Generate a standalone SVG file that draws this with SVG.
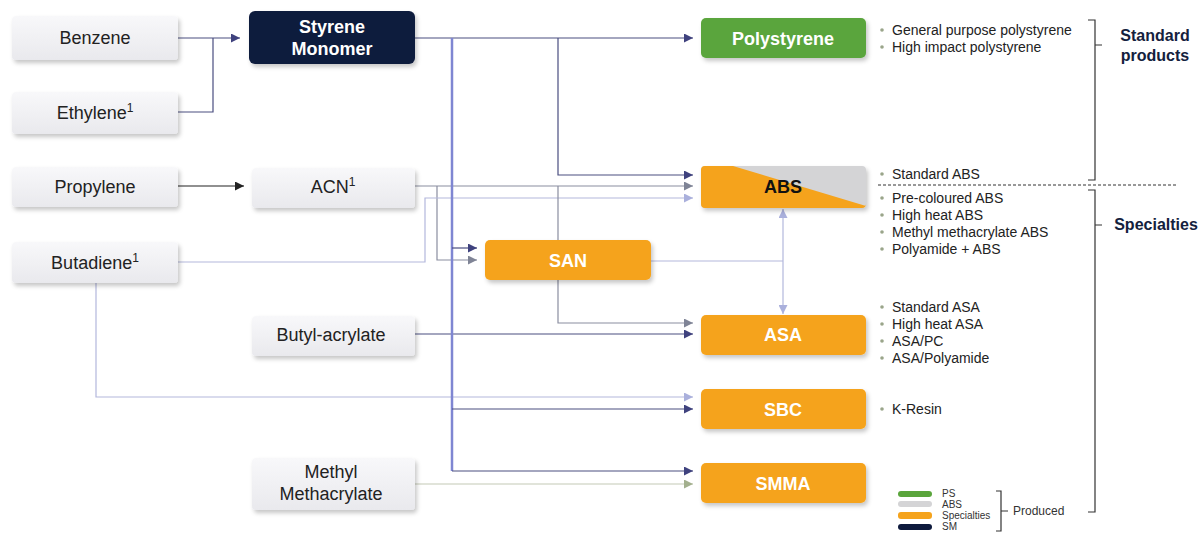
<svg xmlns="http://www.w3.org/2000/svg" width="1203" height="533" viewBox="0 0 1203 533">
<defs>
<linearGradient id="gLight" x1="0" y1="0" x2="0" y2="1"><stop offset="0" stop-color="#f8f8fa"/><stop offset="1" stop-color="#e9e9ed"/></linearGradient>
<filter id="sh" x="-10%" y="-20%" width="125%" height="150%"><feDropShadow dx="2" dy="3" stdDeviation="2" flood-color="#000" flood-opacity="0.22"/></filter>
<marker id="aNavy" viewBox="0 0 10 10" refX="10" refY="5" markerWidth="9" markerHeight="9" markerUnits="userSpaceOnUse" orient="auto"><path d="M0,0 L10,5 L0,10 z" fill="#3f427e"/></marker>
<marker id="aBlack" viewBox="0 0 10 10" refX="10" refY="5" markerWidth="9" markerHeight="9" markerUnits="userSpaceOnUse" orient="auto"><path d="M0,0 L10,5 L0,10 z" fill="#222"/></marker>
<marker id="aGrey" viewBox="0 0 10 10" refX="10" refY="5" markerWidth="9" markerHeight="9" markerUnits="userSpaceOnUse" orient="auto"><path d="M0,0 L10,5 L0,10 z" fill="#7f8496"/></marker>
<marker id="aLight" viewBox="0 0 10 10" refX="10" refY="5" markerWidth="9" markerHeight="9" markerUnits="userSpaceOnUse" orient="auto"><path d="M0,0 L10,5 L0,10 z" fill="#aab0dc"/></marker>
<marker id="aGreen" viewBox="0 0 10 10" refX="10" refY="5" markerWidth="9" markerHeight="9" markerUnits="userSpaceOnUse" orient="auto"><path d="M0,0 L10,5 L0,10 z" fill="#a3b08e"/></marker>
</defs>
<style>
.lt{fill:url(#gLight);filter:url(#sh)}
.nt{font-family:"Liberation Sans",Arial,sans-serif;font-size:18px;fill:#222;text-anchor:middle}
.bt{font-family:"Liberation Sans",Arial,sans-serif;font-size:18px;font-weight:bold;fill:#fff;text-anchor:middle}
.bx{filter:url(#sh)}
.li{font-family:"Liberation Sans",Arial,sans-serif;font-size:14px;fill:#222}
.dot{fill:#9aa58a}
.hd{font-family:"Liberation Sans",Arial,sans-serif;font-size:16px;font-weight:bold;fill:#14213d;text-anchor:middle}
.c{fill:none;stroke-width:1.2}
.nv{stroke:#4a4e80}
.gr{stroke:#8a8ea0}
.lg{stroke:#b3b7dc}
.br{fill:none;stroke:#333;stroke-width:1.2}
.lgd{font-family:"Liberation Sans",Arial,sans-serif;font-size:10px;fill:#333}
.lgp{font-family:"Liberation Sans",Arial,sans-serif;font-size:12px;fill:#333}
</style>
<rect width="1203" height="533" fill="#fff"/>

<g id="connectors">
<path class="c nv" d="M178,38 H240" marker-end="url(#aNavy)"/>
<path class="c nv" d="M178,112 H213 V38"/>
<path class="c nv" d="M415,38 H693" marker-end="url(#aNavy)"/>
<path class="c" stroke="#222" d="M178,186 H244" marker-end="url(#aBlack)"/>
<path class="c nv" d="M558,38 V175 H693" marker-end="url(#aNavy)"/>
<path class="c gr" d="M415,186 H693" marker-end="url(#aGrey)"/>
<path class="c gr" d="M437,186 V260 H477" marker-end="url(#aGrey)"/>
<path class="c lg" d="M178,262 H425 V198 H693" marker-end="url(#aLight)"/>
<path class="c gr" d="M558,186 V323 H693" marker-end="url(#aGrey)"/>
<path class="c nv" d="M415,334 H693" marker-end="url(#aNavy)"/>
<path class="c lg" d="M651,261 H783"/>
<path class="c lg" d="M783,261 V209" marker-end="url(#aLight)"/>
<path class="c lg" d="M783,261 V314" marker-end="url(#aLight)"/>
<path class="c lg" d="M96,283 V397 H693" marker-end="url(#aLight)"/>
<path class="c" stroke="#c4cab6" d="M415,484 H693" marker-end="url(#aGreen)"/>
<path fill="none" stroke="#7f86d2" stroke-width="2.5" d="M452,38 V471"/>
<path class="c nv" d="M452,248 H477" marker-end="url(#aNavy)"/>
<path class="c nv" d="M452,409 H693" marker-end="url(#aNavy)"/>
<path class="c nv" d="M452,471 H693" marker-end="url(#aNavy)"/>
</g>

<g id="benzene"><rect class="lt" x="12" y="16" width="166" height="44" rx="4"/><text class="nt" x="95" y="44">Benzene</text></g>
<g id="ethylene"><rect class="lt" x="12" y="92" width="166" height="42" rx="4"/><text class="nt" x="95" y="119">Ethylene<tspan font-size="12" dy="-7">1</tspan></text></g>
<g id="styrene-monomer"><rect class="bx" x="249" y="11" width="166" height="53" rx="6" fill="#0e1a3d"/><text class="bt" x="332" y="33">Styrene</text><text class="bt" x="332" y="55">Monomer</text></g>
<g id="propylene"><rect class="lt" x="12" y="167" width="166" height="40" rx="4"/><text class="nt" x="95" y="193">Propylene</text></g>
<g id="acn"><rect class="lt" x="252" y="168" width="163" height="40" rx="4"/><text class="nt" x="333" y="193">ACN<tspan font-size="12" dy="-7">1</tspan></text></g>
<g id="butadiene"><rect class="lt" x="12" y="242" width="166" height="41" rx="4"/><text class="nt" x="95" y="269">Butadiene<tspan font-size="12" dy="-7">1</tspan></text></g>
<g id="butyl-acrylate"><rect class="lt" x="252" y="316" width="163" height="40" rx="4"/><text class="nt" x="331" y="341">Butyl-acrylate</text></g>
<g id="methyl-methacrylate"><rect class="lt" x="252" y="458" width="163" height="52" rx="4"/><text class="nt" x="331" y="478">Methyl</text><text class="nt" x="331" y="500">Methacrylate</text></g>

<g id="polystyrene"><rect class="bx" x="701" y="18" width="165" height="40" rx="5" fill="#5aa53c"/><text class="bt" x="783" y="45">Polystyrene</text></g>
<g id="abs"><g class="bx"><rect x="701" y="166" width="165" height="42" rx="4" fill="#d4d4d6"/><path d="M705,166 H733 L866,206 V204 Q866,208 862,208 H705 Q701,208 701,204 V170 Q701,166 705,166 z" fill="#f5a31c"/></g><text class="bt" x="783" y="193" style="fill:#111">ABS</text></g>
<g id="san"><rect class="bx" x="485" y="240" width="166" height="40" rx="5" fill="#f5a31c"/><text class="bt" x="568" y="267">SAN</text></g>
<g id="asa"><rect class="bx" x="701" y="315" width="165" height="40" rx="5" fill="#f5a31c"/><text class="bt" x="783" y="341">ASA</text></g>
<g id="sbc"><rect class="bx" x="701" y="389" width="165" height="40" rx="5" fill="#f5a31c"/><text class="bt" x="783" y="416">SBC</text></g>
<g id="smma"><rect class="bx" x="701" y="463" width="165" height="40" rx="5" fill="#f5a31c"/><text class="bt" x="783" y="490">SMMA</text></g>

<g id="lists">
<circle class="dot" cx="882" cy="30" r="1.8"/><text class="li" x="892" y="35">General purpose polystyrene</text>
<circle class="dot" cx="882" cy="47" r="1.8"/><text class="li" x="892" y="52">High impact polystyrene</text>
<circle class="dot" cx="882" cy="174" r="1.8"/><text class="li" x="892" y="179">Standard ABS</text>
<circle class="dot" cx="882" cy="198" r="1.8"/><text class="li" x="892" y="203">Pre-coloured ABS</text>
<circle class="dot" cx="882" cy="215" r="1.8"/><text class="li" x="892" y="220">High heat ABS</text>
<circle class="dot" cx="882" cy="232" r="1.8"/><text class="li" x="892" y="237">Methyl methacrylate ABS</text>
<circle class="dot" cx="882" cy="249" r="1.8"/><text class="li" x="892" y="254">Polyamide + ABS</text>
<circle class="dot" cx="882" cy="307" r="1.8"/><text class="li" x="892" y="312">Standard ASA</text>
<circle class="dot" cx="882" cy="324" r="1.8"/><text class="li" x="892" y="329">High heat ASA</text>
<circle class="dot" cx="882" cy="341" r="1.8"/><text class="li" x="892" y="346">ASA/PC</text>
<circle class="dot" cx="882" cy="358" r="1.8"/><text class="li" x="892" y="363">ASA/Polyamide</text>
<circle class="dot" cx="882" cy="409" r="1.8"/><text class="li" x="892" y="414">K-Resin</text>
</g>

<g id="categories">
<path class="br" d="M1088,20 H1095 V180 H1088 M1095,45 H1102"/>
<text class="hd" x="1155" y="41">Standard</text><text class="hd" x="1155" y="61">products</text>
<path fill="none" stroke="#333" stroke-width="1" stroke-dasharray="3,2" d="M878,185 H1178"/>
<path class="br" d="M1088,190 H1095 V512 H1088 M1095,225 H1102"/>
<text class="hd" x="1156" y="230">Specialties</text>
</g>

<g id="legend">
<rect x="898" y="491" width="34" height="6" rx="3" fill="#5aa53c"/>
<rect x="898" y="501" width="34" height="6" rx="3" fill="#d4d4d6"/>
<rect x="898" y="512" width="34" height="7" rx="3" fill="#f5a31c"/>
<rect x="898" y="524" width="34" height="6" rx="3" fill="#0e1a3d"/>
<text class="lgd" x="942" y="497">PS</text>
<text class="lgd" x="942" y="508">ABS</text>
<text class="lgd" x="942" y="519">Specialties</text>
<text class="lgd" x="942" y="530">SM</text>
<path class="br" d="M996,491 H1001 V531 H996 M1001,511 H1008"/>
<text class="lgp" x="1013" y="515">Produced</text>
</g>
</svg>
